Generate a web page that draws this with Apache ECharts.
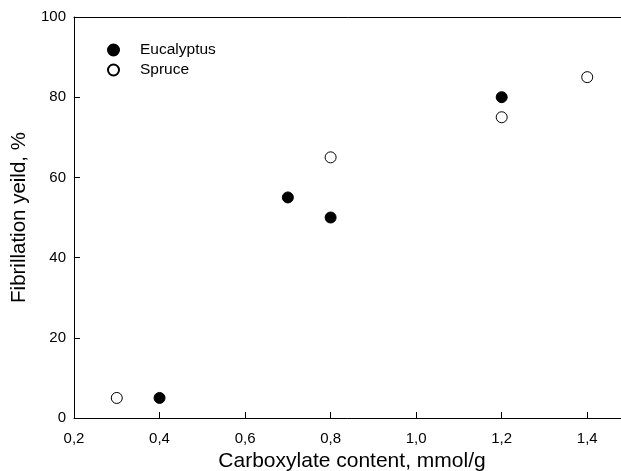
<!DOCTYPE html>
<html>
<head>
<meta charset="utf-8">
<script src="https://cdn.jsdelivr.net/npm/echarts@6/dist/echarts.min.js"></script>
<style>
html, body { margin: 0; padding: 0; background: #fff; }
#main { width: 621px; height: 471px; }
</style>
</head>
<body>
<div id="main"></div>
<script>
// Eucalyptus and Spruce points: [carboxylate content, fibrillation yield]
var eucalyptusX = [0.4, 0.7, 0.8, 1.2];
var eucalyptusY = [5, 55, 50, 80];
var spruceX = [0.3, 0.8, 1.2, 1.4];
var spruceY = [5, 65, 75, 85];

function pairs(xs, ys) {
    var out = [];
    for (var i = 0; i < xs.length; i++) {
        out.push([xs[i], ys[i]]);
    }
    return out;
}

var font = 'Liberation Sans, Arial, sans-serif';
var chart = echarts.init(document.getElementById('main'));

chart.setOption({
    animation: false,
    backgroundColor: '#fff',
    grid: {
        left: 74, right: -9, top: 17, bottom: 53,
        outerBoundsMode: 'none',
        containLabel: false,
        show: false
    },
    legend: {
        orient: 'vertical',
        left: 102, top: 37,
        itemWidth: 11, itemHeight: 11, itemGap: 4,
        textStyle: { fontFamily: font, fontSize: 15.5, color: '#000', padding: [0, 0, 0, 16] },
        data: [
            { name: 'Eucalyptus', icon: 'circle' },
            { name: 'Spruce', icon: 'circle' }
        ]
    },
    xAxis: [
        {
            type: 'value',
            min: 0.2, max: 1.5, interval: 0.2,
            name: 'Carboxylate content, mmol/g',
            nameLocation: 'middle', nameGap: 33,
            nameTextStyle: { fontFamily: font, fontSize: 21, color: '#000' },
            axisLine: { lineStyle: { color: '#000', width: 1 } },
            axisTick: { inside: true, length: 6, lineStyle: { color: '#000' } },
            splitLine: { show: false },
            axisLabel: {
                fontFamily: font, fontSize: 15, color: '#000', margin: 13,
                showMaxLabel: false,
                formatter: function (v) { return v.toFixed(1).replace('.', ','); }
            }
        },
        {
            // top frame line only
            type: 'value',
            position: 'top',
            min: 0.2, max: 1.5,
            axisLine: { show: true, lineStyle: { color: '#000', width: 1 } },
            axisTick: { show: false },
            axisLabel: { show: false },
            splitLine: { show: false }
        }
    ],
    yAxis: {
        type: 'value',
        min: 0, max: 100, interval: 20,
        name: 'Fibrillation yeild, %',
        nameLocation: 'middle', nameGap: 42,
        nameTextStyle: { fontFamily: font, fontSize: 20.5, color: '#000' },
        axisLine: { lineStyle: { color: '#000', width: 1 } },
        axisTick: { inside: true, length: 6, lineStyle: { color: '#000' } },
        splitLine: { show: false },
        axisLabel: { fontFamily: font, fontSize: 15, color: '#000', margin: 8 }
    },
    series: [
        {
            name: 'Eucalyptus',
            type: 'scatter',
            symbol: 'circle',
            symbolSize: 11,
            itemStyle: { color: '#000', borderColor: '#000', borderWidth: 1, opacity: 1 },
            data: pairs(eucalyptusX, eucalyptusY)
        },
        {
            name: 'Spruce',
            type: 'scatter',
            symbol: 'circle',
            symbolSize: 11,
            itemStyle: { color: '#fff', borderColor: '#000', borderWidth: 1, opacity: 1 },
            data: pairs(spruceX, spruceY)
        }
    ]
});
</script>
</body>
</html>
